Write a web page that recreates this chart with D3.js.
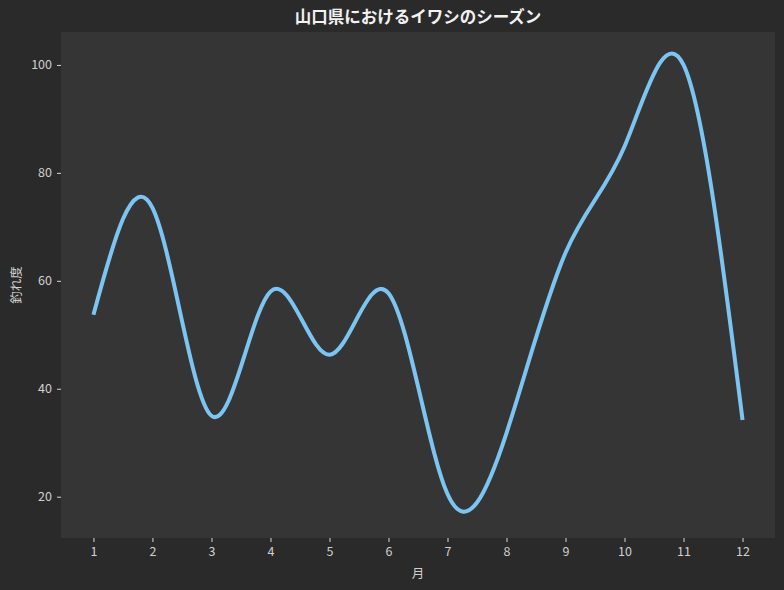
<!DOCTYPE html>
<html>
<head>
<meta charset="utf-8">
<script src="https://cdn.jsdelivr.net/npm/d3@7"></script>
<style>
  html, body { margin: 0; padding: 0; background: #2a2a2a; }
  svg { display: block; font-family: "Noto Sans CJK JP", "Noto Sans", sans-serif; }
</style>
</head>
<body>
<svg id="chart"></svg>
<script>
// Data
const months = [1, 2, 3, 4, 5, 6, 7, 8, 9, 10, 11, 12];
const scores = [53.7, 73.5, 35, 58, 46.3, 57.7, 20.5, 31.8, 65.2, 84.9, 100, 34.2];
const yTicks = [20, 40, 60, 80, 100];

// Setup
const width = 784,
      height = 590;
const margin = { top: 32, right: 9, bottom: 52, left: 61 };

const svg = d3.select('#chart')
  .attr('width', width)
  .attr('height', height);

svg.append('rect')
  .attr('width', width)
  .attr('height', height)
  .attr('fill', '#2a2a2a');

const x = d3.scaleLinear()
  .domain([0.45, 12.55])
  .range([margin.left, width - margin.right]);

const y = d3.scaleLinear()
  .domain([12.35, 106.1])
  .range([height - margin.bottom, margin.top]);

// Plot area
svg.append('rect')
  .attr('x', margin.left)
  .attr('y', margin.top)
  .attr('width', width - margin.left - margin.right)
  .attr('height', height - margin.top - margin.bottom)
  .attr('fill', '#353535');

// Axes
const xAxis = svg.append('g')
  .attr('transform', `translate(0,${height - margin.bottom})`)
  .call(d3.axisBottom(x).tickValues(months).tickFormat(d3.format('d')).tickSize(4).tickPadding(5));

const yAxis = svg.append('g')
  .attr('transform', `translate(${margin.left},0)`)
  .call(d3.axisLeft(y).tickValues(yTicks).tickSize(4).tickPadding(5));

[xAxis, yAxis].forEach(g => {
  g.select('.domain').remove();
  g.selectAll('.tick line').attr('stroke', '#d8d8d8').attr('stroke-width', 1);
  g.selectAll('.tick text')
    .attr('fill', '#d0d0d0')
    .style('font-size', '12.5px')
    .style('font-family', '"Noto Sans CJK JP", sans-serif');
});

// Line
const line = d3.line()
  .x((d, i) => x(months[i]))
  .y(d => y(d))
  .curve(d3.curveNatural);

svg.append('path')
  .datum(scores)
  .attr('d', line)
  .attr('fill', 'none')
  .attr('stroke', '#7cc5f3')
  .attr('stroke-width', 4);

// Labels
svg.append('text')
  .attr('x', (margin.left + width - margin.right) / 2)
  .attr('y', 23)
  .attr('text-anchor', 'middle')
  .attr('fill', '#f2f2f2')
  .style('font-size', '16.5px')
  .style('font-weight', 'bold')
  .text('山口県におけるイワシのシーズン');

svg.append('text')
  .attr('x', (margin.left + width - margin.right) / 2)
  .attr('y', 578)
  .attr('text-anchor', 'middle')
  .attr('fill', '#d0d0d0')
  .style('font-size', '12.5px')
  .text('月');

svg.append('text')
  .attr('transform', `translate(21,${(margin.top + height - margin.bottom) / 2}) rotate(-90)`)
  .attr('text-anchor', 'middle')
  .attr('fill', '#d0d0d0')
  .style('font-size', '12.5px')
  .text('釣れ度');
</script>
</body>
</html>
